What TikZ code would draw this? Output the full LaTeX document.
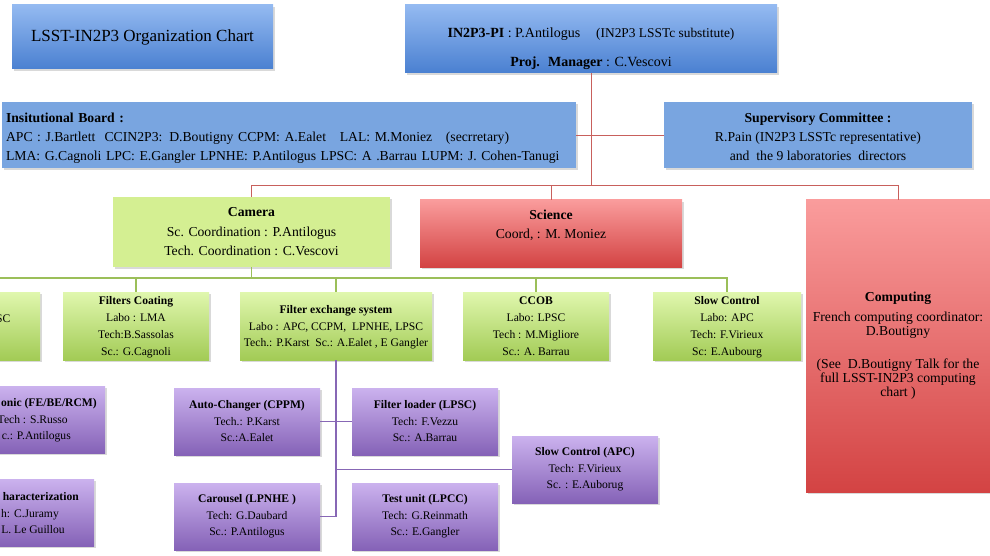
\documentclass[tikz,border=0pt]{standalone}
\usepackage{fontspec}
\setmainfont{Liberation Serif}
\usetikzlibrary{shadows}

\definecolor{blueTop}{HTML}{94BAF1}
\definecolor{blueBot}{HTML}{4A80D1}
\definecolor{boardBlue}{HTML}{79A5E0}
\definecolor{camGreen}{HTML}{D4EF92}
\definecolor{greenTop}{HTML}{E0F7AE}
\definecolor{greenBot}{HTML}{A2CB55}
\definecolor{redTop}{HTML}{FA9C9C}
\definecolor{redBot}{HTML}{D34343}
\definecolor{purpleTop}{HTML}{CBB2EE}
\definecolor{purpleBot}{HTML}{8562B7}
\definecolor{redLine}{HTML}{C8605C}
\definecolor{greenLine}{HTML}{9BBF59}
\definecolor{purpleLine}{HTML}{8767B5}

\newcommand{\orgmain}{\fontsize{13.7}{19}\selectfont}
\newcommand{\orgsub}{\fontsize{11.6}{17}\selectfont}

\begin{document}
\begin{tikzpicture}[x=1pt,y=-1pt,
        chartbox/.style={inner sep=3pt, align=center, drop shadow={shadow xshift=1.5pt,shadow yshift=-2pt,opacity=0.3}},
        headbox/.style={chartbox, top color=blueTop, bottom color=blueBot, font=\orgmain},
        boardbox/.style={chartbox, fill=boardBlue, font=\orgmain},
        camerabox/.style={chartbox, fill=camGreen, font=\orgmain},
        redbox/.style={chartbox, top color=redTop, bottom color=redBot, font=\orgmain},
        teambox/.style={chartbox, top color=greenTop, bottom color=greenBot, font=\orgsub, minimum height=68pt, text depth=0pt},
        taskbox/.style={chartbox, top color=purpleTop, bottom color=purpleBot, font={\fontsize{11.6}{16.5}\selectfont}, minimum width=146pt, minimum height=67pt},
        cuttext/.style={inner sep=0pt, align=right, font={\fontsize{11.6}{16.5}\selectfont}},
        redlink/.style={draw=redLine, line width=0.9pt},
        greenlink/.style={draw=greenLine, line width=1.2pt},
        purplelink/.style={draw=purpleLine, line width=1.1pt}]
        \useasboundingbox (0,0) rectangle (990,556);
        \clip (0,0) rectangle (990,556);

        % top level
        \node[headbox, minimum width=261pt, minimum height=64pt, font={\fontsize{17}{20}\selectfont}] (title) at (142.5,37) {LSST-IN2P3 Organization Chart};
        \node[headbox, minimum width=372pt, minimum height=68pt, inner ysep=2pt, font={\fontsize{14}{17}\selectfont}] (pi) at (591,39) {\mbox{}\\[13pt]\textbf{IN2P3-PI} : P.Antilogus\hspace{16pt}{\fontsize{13.4}{15}\selectfont(IN2P3 LSSTc substitute)}\\[12pt]\textbf{Proj.~ Manager} : C.Vescovi};
        \node[boardbox, text width=566pt, align=left, inner sep=4pt, minimum height=66pt] (board) at (289,135) {\mbox{}\\[-3pt]\textbf{Insitutional Board :}\\APC : J.Bartlett~ CCIN2P3: D.Boutigny CCPM: A.Ealet~~ LAL: M.Moniez~~ (secrretary)\\LMA: G.Cagnoli LPC: E.Gangler LPNHE: P.Antilogus LPSC: A .Barrau LUPM: J. Cohen-Tanugi};
        \node[boardbox, minimum width=308pt, minimum height=66pt] (superv) at (818,135) {\mbox{}\\[-5pt]\textbf{Supervisory Committee :}\\R.Pain (IN2P3 LSSTc representative)\\and~ the 9 laboratories~ directors};

        \node[camerabox, minimum width=277pt, minimum height=70pt, font={\fontsize{13.7}{19.5}\selectfont}] (camera) at (251.5,232) {\textbf{Camera}\\Sc. Coordination : P.Antilogus\\Tech. Coordination : C.Vescovi};
        \node[redbox, minimum width=262pt, minimum height=67pt] (science) at (551,233.5) {\textbf{Science}\\Coord, : M. Moniez\\\mbox{}};
        \node[redbox, minimum width=184pt, minimum height=292pt, font={\fontsize{13.7}{14}\selectfont}] (computing) at (898,346) {\textbf{Computing}\\[6pt]French computing coordinator:\\D.Boutigny\\[19pt](See~ D.Boutigny Talk for the\\full LSST-IN2P3 computing\\chart )};

        % camera teams
        \node[teambox, minimum width=150pt] (lsc) at (-35,326) {};
        \node[cuttext, anchor=east, font=\orgsub] (lsctext) at (10.5,319) {SC};
        \node[teambox, minimum width=146pt] (coating) at (136,326) {\textbf{Filters Coating}\\Labo : LMA\\Tech:B.Sassolas\\Sc.: G.Cagnoli};
        \node[teambox, minimum width=192pt, inner xsep=1pt, font={\fontsize{11.6}{16.5}\selectfont}] (fes) at (336,326) {\textbf{Filter exchange system}\\Labo : APC, CCPM,~ LPNHE, LPSC\\Tech.: P.Karst~ Sc.: A.Ealet , E Gangler};
        \node[teambox, minimum width=146pt] (ccob) at (536,326) {\textbf{CCOB}\\Labo: LPSC\\Tech : M.Migliore\\Sc.: A. Barrau};
        \node[teambox, minimum width=148pt] (slow) at (727,326) {\textbf{Slow Control}\\Labo: APC\\Tech: F.Virieux\\Sc: E.Aubourg};

        % sub tasks
        \node[taskbox, minimum width=156pt] (elec) at (27,419.5) {};
        \node[cuttext, anchor=east] (electext) at (97,420.5) {\textbf{onic (FE/BE/RCM)}\\Tech : S.Russo\rule{29pt}{0pt}\\c.: P.Antilogus\rule{26pt}{0pt}};
        \node[taskbox, minimum width=154pt] (charac) at (17,512.5) {};
        \node[cuttext, anchor=east] (charactext) at (79,513.5) {\textbf{haracterization}\\h: C.Juramy\rule{20pt}{0pt}\\L. Le Guillou\rule{14pt}{0pt}};
        \node[taskbox] (auto) at (247,421.5) {\textbf{Auto-Changer (CPPM)}\\Tech.: P.Karst\\Sc.:A.Ealet};
        \node[taskbox] (loader) at (425,421.5) {\textbf{Filter loader (LPSC)}\\Tech: F.Vezzu\\Sc.: A.Barrau};
        \node[taskbox] (carousel) at (247,516.5) {\textbf{Carousel (LPNHE )}\\Tech: G.Daubard\\Sc.: P.Antilogus};
        \node[taskbox] (testunit) at (425,516.5) {\textbf{Test unit (LPCC)}\\Tech: G.Reinmath\\Sc.: E.Gangler};
        \node[taskbox] (slowapc) at (585,469.5) {\textbf{Slow Control (APC)}\\Tech: F.Virieux\\Sc. : E.Auborug};

        \coordinate (redbus) at (0,185);
        \coordinate (greenbus) at (0,278);
        \draw[redlink] (pi.south) -- (pi.south |- redbus);
        \draw[redlink] (board.east) -- (superv.west);
        \draw[redlink] (camera.north) -- (camera.north |- redbus) -- (computing.north |- redbus) -- (computing.north);
        \draw[redlink] (science.north) -- (science.north |- redbus);

        \draw[greenlink] (camera.south) -- (camera.south |- greenbus);
        \draw[greenlink] (greenbus) -- (slow.north |- greenbus) -- (slow.north);
        \draw[greenlink] (coating.north |- greenbus) -- (coating.north);
        \draw[greenlink] (fes.north |- greenbus) -- (fes.north);
        \draw[greenlink] (ccob.north |- greenbus) -- (ccob.north);

        \draw[purplelink] (fes.south) -- (fes.south |- carousel.east) -- (carousel.east);
        \draw[purplelink] (auto.east) -- (loader.west);
        \draw[purplelink] (fes.south |- slowapc.west) -- (slowapc.west);
    \end{tikzpicture}
\end{document}
